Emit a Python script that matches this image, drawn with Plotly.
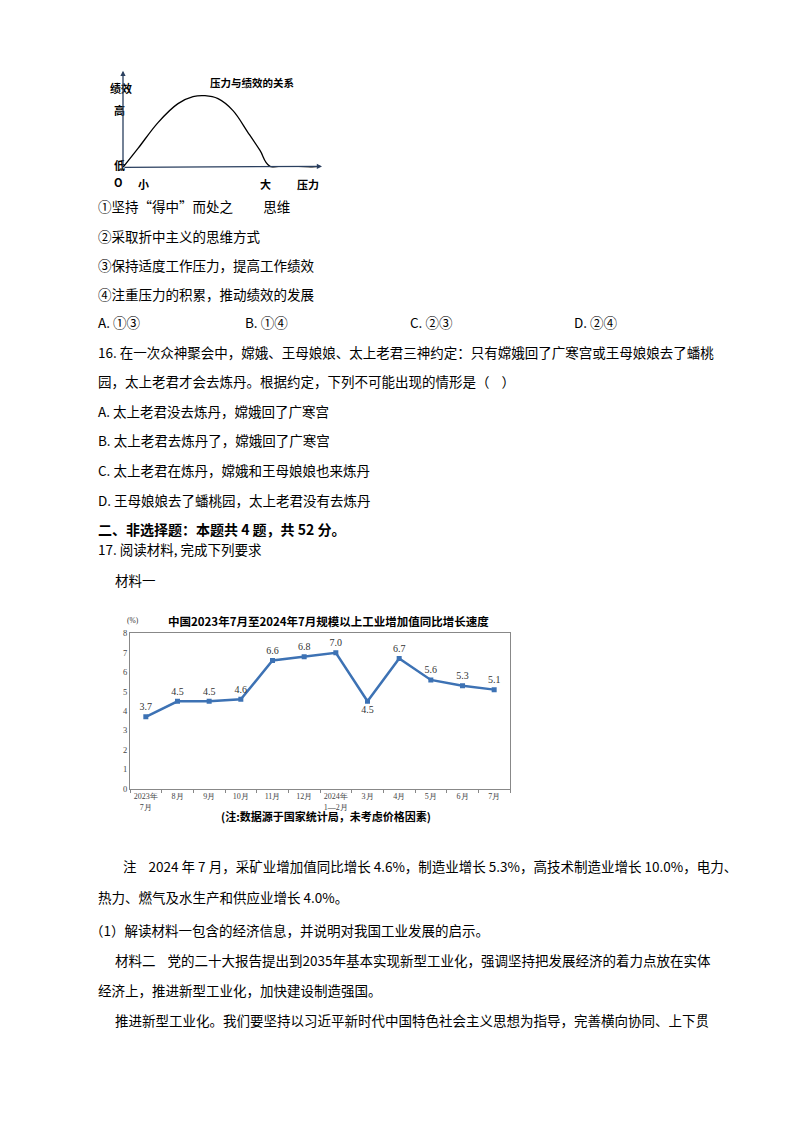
import plotly.graph_objects as go

W, H = 800, 1132

# 压力与绩效 curve (arbitrary units)
curve_x = [0, 15, 35, 55, 70, 82, 95, 110, 125, 137, 147, 197]
curve_y = [0, 19, 45, 64, 71, 72, 69, 57, 35, 17, 1, 1]

# line chart data
months = ['2023年<br>7月', '8月', '9月', '10月', '11月', '12月', '2024年<br>1—2月',
          '3月', '4月', '5月', '6月', '7月']
growth = [3.7, 4.5, 4.5, 4.6, 6.6, 6.8, 7.0, 4.5, 6.7, 5.6, 5.3, 5.1]

lines = [
    (88, 206, '①坚持“得中”而处之          思维', False),
    (88, 236, '②采取折中主义的思维方式', False),
    (88, 265, '③保持适度工作压力，提高工作绩效', False),
    (88, 294, '④注重压力的积累，推动绩效的发展', False),
    (88, 322, 'A. ①③', False),
    (235, 322, 'B. ①④', False),
    (400, 322, 'C. ②③', False),
    (564, 322, 'D. ②④', False),
    (88, 352, '16. 在一次众神聚会中，嫦娥、王母娘娘、太上老君三神约定：只有嫦娥回了广寒宫或王母娘娘去了蟠桃', False),
    (88, 382, '园，太上老君才会去炼丹。根据约定，下列不可能出现的情形是（    ）', False),
    (88, 412, 'A. 太上老君没去炼丹，嫦娥回了广寒宫', False),
    (88, 441, 'B. 太上老君去炼丹了，嫦娥回了广寒宫', False),
    (88, 471, 'C. 太上老君在炼丹，嫦娥和王母娘娘也来炼丹', False),
    (88, 501, 'D. 王母娘娘去了蟠桃园，太上老君没有去炼丹', False),
    (88, 530, '二、非选择题：本题共 4 题，共 52 分。', True),
    (88, 550, '17. 阅读材料, 完成下列要求', False),
    (105, 581, '材料一', False),
    (113, 869, '注    2024 年 7 月，采矿业增加值同比增长 4.6%，制造业增长 5.3%，高技术制造业增长 10.0%，电力、', False),
    (88, 900, '热力、燃气及水生产和供应业增长 4.0%。', False),
    (80, 933, '（1）解读材料一包含的经济信息，并说明对我国工业发展的启示。', False),
    (105, 963, '材料二    党的二十大报告提出到2035年基本实现新型工业化，强调坚持把发展经济的着力点放在实体', False),
    (88, 993, '经济上，推进新型工业化，加快建设制造强国。', False),
    (105, 1023, '推进新型工业化。我们要坚持以习近平新时代中国特色社会主义思想为指导，完善横向协同、上下贯', False),
]


def py(v):
    # correct for the page offset seen in the render
    v = v - 12 + v * 0.0045
    return 1 - v / H


fig = go.Figure()
fig.add_trace(go.Scatter(x=curve_x, y=curve_y, mode='lines', line=dict(color='black', width=1.3),
                         line_shape='spline', xaxis='x2', yaxis='y2', hoverinfo='skip'))
labels = [f'{v:.1f}' for v in growth]
pos = ['top center'] * len(growth)
pos[7] = 'bottom center'
fig.add_trace(go.Scatter(x=months, y=growth, mode='lines+markers+text', text=labels, textposition=pos,
                         textfont=dict(family='Liberation Serif', size=10, color='#333'),
                         line=dict(color='#3d72b4', width=2.5),
                         marker=dict(symbol='square', size=5, color='#3d72b4')))

anns = []
for x, y, t, b in lines:
    anns.append(dict(x=x / W, y=py(y), xref='paper', yref='paper', text=f'<b>{t}</b>' if b else t,
                     showarrow=False, xanchor='left', yanchor='middle',
                     font=dict(family='Noto Sans CJK SC', size=13.5 if not b else 14, color='black')))

small = [(100, 77, '绩效'), (104, 99, '高'), (104, 155, '低'), (104, 172, 'O'),
         (128, 174, '小'), (250, 174, '大'), (300, 174, '压力')]
for x, y, t in small:
    anns.append(dict(x=x / W, y=py(y), xref='paper', yref='paper', text=f'<b>{t}</b>', showarrow=False,
                     font=dict(family='Noto Sans CJK SC', size=11, color='black')))
anns.append(dict(x=200 / W, y=py(72), xref='paper', yref='paper', text='<b>压力与绩效的关系</b>', showarrow=False,
                 font=dict(family='Noto Sans CJK SC', size=10.5, color='black')))
# axis arrows of the sketch
anns.append(dict(x=115 / W, y=py(70), xref='paper', yref='paper', ax=0, ay=97, showarrow=True,
                 arrowhead=2, arrowsize=0.8, arrowwidth=1.3, text=''))
anns.append(dict(x=314 / W, y=py(166), xref='paper', yref='paper', ax=-199, ay=1, showarrow=True,
                 arrowhead=2, arrowsize=0.8, arrowwidth=1.3, text=''))

anns.append(dict(x=320 / W, y=py(623), xref='paper', yref='paper', text='<b>中国2023年7月至2024年7月规模以上工业增加值同比增长速度</b>',
                 showarrow=False, font=dict(family='Noto Sans CJK SC', size=11.5, color='black')))
anns.append(dict(x=117 / W, y=py(622), xref='paper', yref='paper', text='(%)', showarrow=False,
                 font=dict(family='Liberation Serif', size=7.5, color='#333')))
anns.append(dict(x=318 / W, y=py(829), xref='paper', yref='paper', text='<b>(注:数据源于国家统计局，未考虑价格因素)</b>',
                 showarrow=False, font=dict(family='Noto Sans CJK SC', size=11, color='black')))

fig.update_layout(
    width=W, height=H, margin=dict(l=0, r=0, t=0, b=0), showlegend=False,
    paper_bgcolor='white', plot_bgcolor='white', annotations=anns,
    xaxis=dict(domain=[122 / W, 502 / W], range=[-0.5, 11.5], tickson='boundaries', ticks='outside',
               ticklen=3, tickcolor='#888', showline=True, linecolor='#888', mirror=True, showgrid=False,
               tickangle=0, tickfont=dict(family='Liberation Serif', size=8, color='#444')),
    yaxis=dict(domain=[py(791), py(635)], range=[0, 8], dtick=1, showline=True, linecolor='#888',
               mirror=True, showgrid=False, ticks='', tickfont=dict(family='Liberation Serif', size=8.5, color='#444')),
    xaxis2=dict(domain=[115 / W, 312 / W], range=[0, 197], visible=False, anchor='y2'),
    yaxis2=dict(domain=[py(167), py(72)], range=[0, 95], visible=False, anchor='x2'),
)
fig.write_html('out.html')
